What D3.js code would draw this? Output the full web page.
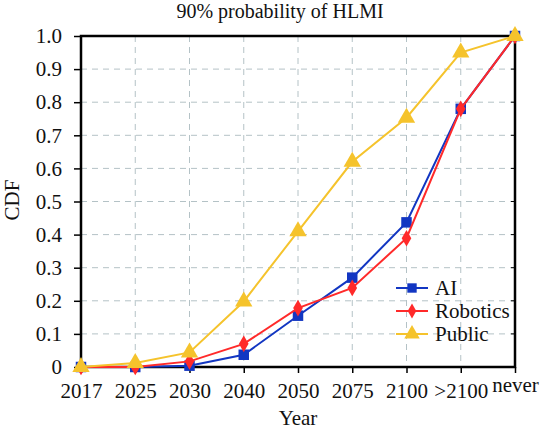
<!DOCTYPE html>
<html><head><meta charset="utf-8">
<script src="https://cdn.jsdelivr.net/npm/d3@7"></script>
<style>body{margin:0;background:#fff}svg{display:block}svg text{font-family:'Liberation Serif',serif !important;fill:#111}</style>
</head><body><svg id="c" width="554" height="430"></svg>
<script>
const categories = ["2017","2025","2030","2040","2050","2075","2100",">2100","never"];
const aiValues = [0, 0, 0.004, 0.037, 0.155, 0.27, 0.437, 0.78, 1.0];
const roboticsValues = [0, 0, 0.017, 0.07, 0.178, 0.239, 0.389, 0.78, 1.0];
const publicValues = [0, 0.012, 0.044, 0.198, 0.41, 0.62, 0.753, 0.95, 1.0];
const yTicks = [0,0.1,0.2,0.3,0.4,0.5,0.6,0.7,0.8,0.9,1.0];
const seriesNames = ["AI","Robotics","Public"];

const FONT = "'Liberation Serif', serif";
const svg = d3.select("#c");
const L=81, R=515, T=36, B=367;
const x = d3.scalePoint().domain(categories).range([L,R]);
const y = d3.scaleLinear().domain([0,1]).range([B,T]);

// grid
const g = svg.append("g");
g.selectAll(".gx").data(categories.slice(1,-1)).enter().append("line")
 .attr("x1",d=>x(d)).attr("x2",d=>x(d)).attr("y1",T).attr("y2",B)
 .attr("stroke","#b4c2c6").attr("stroke-width",1).attr("stroke-dasharray","6,5");
g.selectAll(".gy").data(yTicks.slice(1,-1)).enter().append("line")
 .attr("x1",L).attr("x2",R).attr("y1",d=>y(d)).attr("y2",d=>y(d))
 .attr("stroke","#b4c2c6").attr("stroke-width",1).attr("stroke-dasharray","6,5");

// axes
const fs = 21;
const xAxis = d3.axisBottom(x).tickSize(6).tickPadding(10);
const xg = svg.append("g").attr("transform",`translate(0,${B})`).call(xAxis)
  .attr("font-family",FONT).attr("font-size",fs);
xg.select(".domain").remove();
xg.selectAll("line").attr("stroke","#000").attr("stroke-width",1.5);
xg.selectAll("text").attr("fill","#111")
  .attr("dy", d=> d==="never" ? "0.45em" : "0.71em");
const yAxis = d3.axisLeft(y).tickValues(yTicks).tickSize(7).tickPadding(12)
  .tickFormat(d=> d===0 ? "0" : d3.format(".1f")(d));
const yg = svg.append("g").attr("transform",`translate(${L},0)`).call(yAxis)
  .attr("font-family",FONT).attr("font-size",fs);
yg.select(".domain").remove();
yg.selectAll("line").attr("stroke","#000").attr("stroke-width",1.5);
yg.selectAll("text").attr("fill","#111");
// right inner ticks
svg.append("g").selectAll("line").data(yTicks).enter().append("line")
 .attr("x1",R-4).attr("x2",R).attr("y1",d=>y(d)).attr("y2",d=>y(d)).attr("stroke","#000").attr("stroke-width",1);
// frame
svg.append("rect").attr("x",L).attr("y",T).attr("width",R-L).attr("height",B-T)
 .attr("fill","none").attr("stroke","#000").attr("stroke-width",2.5);

// series
const colors = ["#1236c2","#ff2a2a","#f5c32c"];
const data = [aiValues, roboticsValues, publicValues];
const line = d3.line().x((d,i)=>x(categories[i])).y(d=>y(d));
const symbols = [d3.symbolSquare, d3.symbolDiamond, d3.symbolTriangle];
const sizes = [110, 80, 130];
data.forEach((vals,k)=>{
  svg.append("path").datum(vals).attr("d",line).attr("fill","none")
    .attr("stroke",colors[k]).attr("stroke-width",2);
  svg.append("g").selectAll("path").data(vals).enter().append("path")
    .attr("d",d3.symbol().type(symbols[k]).size(sizes[k]))
    .attr("transform",(d,i)=>`translate(${x(categories[i])},${y(d)})`)
    .attr("fill",colors[k]);
});

// legend
const lg = svg.append("g");
seriesNames.forEach((n,k)=>{
  const yy = 288 + k*23;
  lg.append("line").attr("x1",396).attr("x2",428).attr("y1",yy).attr("y2",yy).attr("stroke",colors[k]).attr("stroke-width",2);
  lg.append("path").attr("d",d3.symbol().type(symbols[k]).size(sizes[k]*0.8)).attr("transform",`translate(412,${yy})`).attr("fill",colors[k]);
  lg.append("text").attr("x",435).attr("y",yy+7).attr("font-family",FONT).attr("font-size",fs).text(n);
});

// titles
svg.append("text").attr("x",280).attr("y",18).attr("text-anchor","middle").attr("font-family",FONT).attr("font-size",20).text("90% probability of HLMI");
svg.append("text").attr("x",298).attr("y",425).attr("text-anchor","middle").attr("font-family",FONT).attr("font-size",fs).text("Year");
svg.append("text").attr("transform","translate(19,200) rotate(-90)").attr("text-anchor","middle").attr("font-family",FONT).attr("font-size",fs).text("CDF");
</script></body></html>
